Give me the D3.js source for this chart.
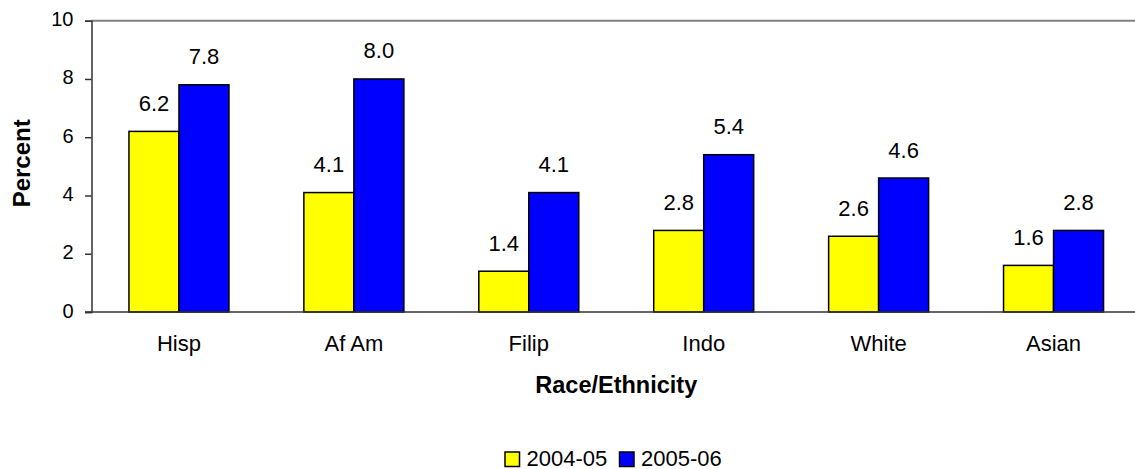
<!DOCTYPE html>
<html>
<head>
<meta charset="utf-8">
<script src="https://cdn.jsdelivr.net/npm/d3@7"></script>
<style>
  html, body { margin: 0; padding: 0; background: #fff; overflow: hidden; }
  svg { display: block; font-family: "Liberation Sans", Arial, sans-serif; }
</style>
</head>
<body>
<svg id="chart" width="1135" height="469"></svg>
<script>
const categories = ["Hisp", "Af Am", "Filip", "Indo", "White", "Asian"];
const seriesNames = ["2004-05", "2005-06"];
const values2004 = [6.2, 4.1, 1.4, 2.8, 2.6, 1.6];
const values2005 = [7.8, 8.0, 4.1, 5.4, 4.6, 2.8];
const seriesColors = ["#FFFF00", "#0000FF"];
const yTicks = [0, 2, 4, 6, 8, 10];

const svg = d3.select("#chart");
const mLeft = 91.5, mRight = 1141, mTop = 20.7, mBottom = 312;
const FONT = "Liberation Sans, Arial, sans-serif";

const x = d3.scaleBand().domain(categories).range([mLeft, mRight]).paddingInner(0).paddingOuter(0);
const x1 = d3.scaleBand().domain(seriesNames).range([0, 100]);
const y = d3.scaleLinear().domain([0, 10]).range([mBottom, mTop]);

// top border line
svg.append("line").attr("x1", mLeft).attr("x2", mRight).attr("y1", y(10)).attr("y2", y(10))
  .attr("stroke", "#808080").attr("stroke-width", 2);

const data = categories.map((c, i) => ({ cat: c, vals: [values2004[i], values2005[i]] }));

const groups = svg.selectAll("g.grp").data(data).join("g")
  .attr("class", "grp")
  .attr("transform", d => `translate(${x(d.cat) + (x.bandwidth() - 100) / 2},0)`);

groups.selectAll("rect").data(d => d.vals.map((v, j) => ({ v, s: seriesNames[j], j }))).join("rect")
  .attr("x", d => x1(d.s))
  .attr("width", x1.bandwidth())
  .attr("y", d => y(d.v))
  .attr("height", d => y(0) - y(d.v))
  .attr("fill", d => seriesColors[d.j])
  .attr("stroke", "#000").attr("stroke-width", 1.5);

groups.selectAll("text.val").data(d => d.vals.map((v, j) => ({ v, s: seriesNames[j] }))).join("text")
  .attr("class", "val")
  .attr("x", d => x1(d.s) + x1.bandwidth() / 2)
  .attr("y", d => y(d.v) - 20.5)
  .attr("text-anchor", "middle")
  .attr("font-size", 22)
  .attr("fill", "#000")
  .text(d => d.v.toFixed(1));

// Y axis
const yAxis = svg.append("g").attr("transform", `translate(${mLeft},0)`)
  .call(d3.axisLeft(y).tickValues(yTicks).tickSize(6.5).tickPadding(11.5).tickFormat(d3.format("d")));
yAxis.select(".domain").attr("stroke", "#333").attr("stroke-width", 1.5);
yAxis.selectAll(".tick line").attr("stroke", "#333").attr("stroke-width", 1.5);
yAxis.selectAll(".tick text").attr("font-size", 20).attr("fill", "#000")
  .attr("font-family", FONT).attr("dy", "0.25em");

// X axis
const xAxis = svg.append("g").attr("transform", `translate(0,${mBottom})`)
  .call(d3.axisBottom(x).tickSize(0).tickPadding(23));
xAxis.select(".domain").attr("stroke", "#333").attr("stroke-width", 1.5)
  .attr("d", `M${mLeft - 6.5},0H${mRight}`);
xAxis.selectAll(".tick text").attr("font-size", 22).attr("fill", "#000")
  .attr("font-family", FONT);

// Axis titles
svg.append("text")
  .attr("transform", `translate(30,${(mTop + mBottom) / 2 - 3}) rotate(-90)`)
  .attr("text-anchor", "middle")
  .attr("font-size", 24).attr("font-weight", "bold").attr("fill", "#000")
  .text("Percent");

svg.append("text")
  .attr("x", (mLeft + mRight) / 2).attr("y", 393)
  .attr("text-anchor", "middle")
  .attr("font-size", 23.5).attr("font-weight", "bold").attr("fill", "#000")
  .text("Race/Ethnicity");

// Legend
const legendX = [505, 619.5];
const leg = svg.append("g");
seriesNames.forEach((s, i) => {
  leg.append("rect").attr("x", legendX[i]).attr("y", 452).attr("width", 14.5).attr("height", 14.5)
    .attr("fill", seriesColors[i]).attr("stroke", "#000").attr("stroke-width", 1.5);
  leg.append("text").attr("x", legendX[i] + 21.5).attr("y", 465.5)
    .attr("font-size", 22).attr("fill", "#000").text(s);
});
</script>
</body>
</html>
